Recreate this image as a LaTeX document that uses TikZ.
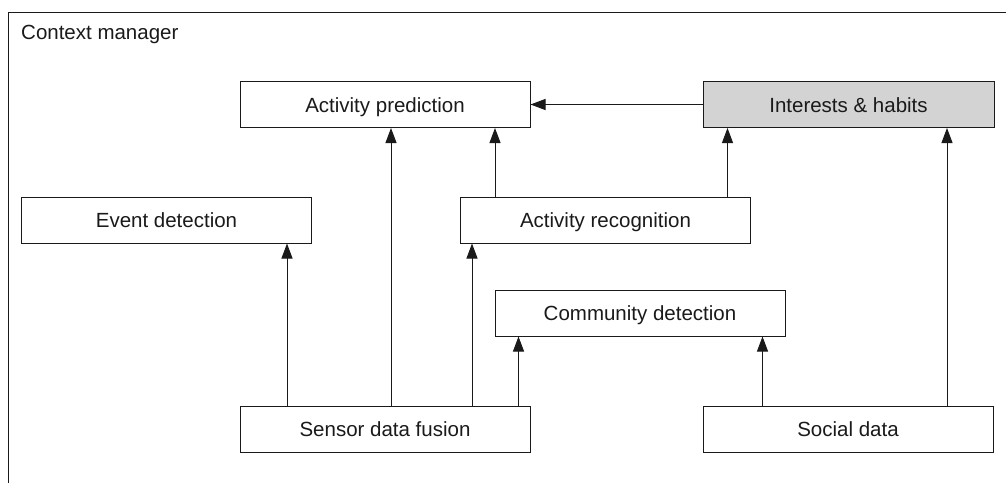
\documentclass[tikz,border=0pt]{standalone}
\usepackage{fontspec}
\setmainfont{Liberation Sans}
\usetikzlibrary{arrows.meta}
\definecolor{boxgray}{HTML}{D3D3D3}
\definecolor{ink}{HTML}{1A1A1A}
\tikzset{
  module/.style={draw=ink, line width=1pt, fill=white, rectangle,
    minimum width=290pt, minimum height=46pt, inner sep=0pt,
    text height=15pt, text depth=0pt,
    font=\fontsize{20.5pt}{24pt}\selectfont, text=ink},
  highlight/.style={module, fill=boxgray},
  flow/.style={draw=ink, line width=1pt, -{Triangle[length=15pt,width=11pt]}},
}
\begin{document}
\begin{tikzpicture}[x=1pt,y=-1pt]
  \useasboundingbox (0,0) rectangle (1006,482);
  % enclosing frame (open to the right and bottom)
  \draw[ink, line width=1pt] (8,495) -- (8,12) -- (1015,12);
  \node[anchor=base west, inner sep=0pt, font=\fontsize{20.5pt}{24pt}\selectfont, text=ink] (title) at (21,39) {Context manager};

  % modules
  \node[module]    (pred) at (385,104.5)   {Activity prediction};
  \node[highlight, minimum width=291pt] (int)  at (848.5,104.5) {Interests \& habits};
  \node[module]    (evt)  at (166.5,220)   {Event detection};
  \node[module]    (rec)  at (605.5,220)   {Activity recognition};
  \node[module]    (com)  at (640,313)     {Community detection};
  \node[module]    (sen)  at (385,429)     {Sensor data fusion};
  \node[module]    (soc)  at (848,429)     {Social data};

  % data flow
  \draw[flow] (int.west) -- (pred.east);
  \draw[flow] ([xshift=-98pt]sen.north)   -- ([xshift=120.5pt]evt.south);
  \draw[flow] ([xshift=6pt]sen.north)     -- ([xshift=6pt]pred.south);
  \draw[flow] ([xshift=87pt]sen.north)    -- ([xshift=-133.5pt]rec.south);
  \draw[flow] ([xshift=133.5pt]sen.north) -- ([xshift=-121.5pt]com.south);
  \draw[flow] ([xshift=-110.5pt]rec.north) -- ([xshift=110pt]pred.south);
  \draw[flow] ([xshift=122pt]rec.north)   -- ([xshift=-121pt]int.south);
  \draw[flow] ([xshift=-85.5pt]soc.north) -- ([xshift=122.5pt]com.south);
  \draw[flow] ([xshift=99pt]soc.north)    -- ([xshift=98.5pt]int.south);
\end{tikzpicture}
\end{document}
